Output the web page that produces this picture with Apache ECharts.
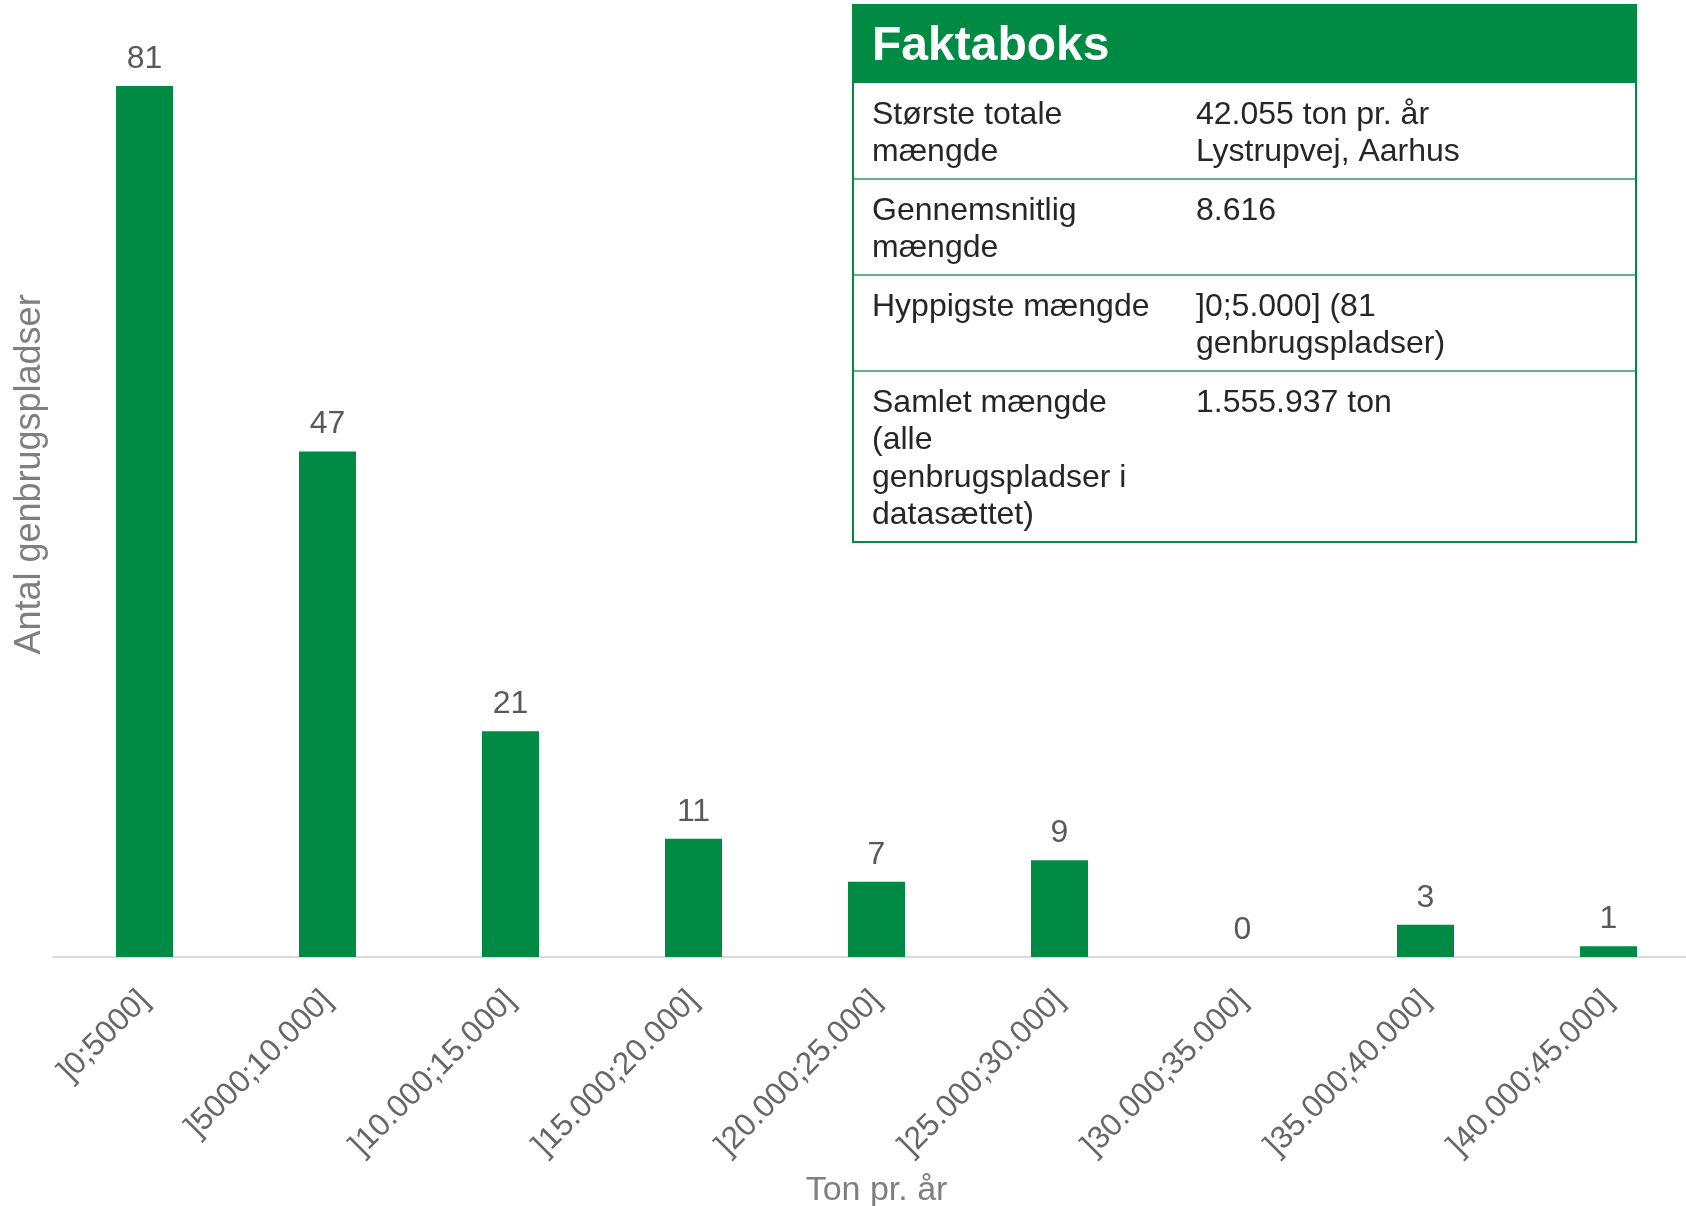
<!DOCTYPE html>
<html>
<head>
<meta charset="utf-8">
<script src="https://cdn.jsdelivr.net/npm/echarts@6/dist/echarts.min.js"></script>
<style>
  html, body { margin: 0; padding: 0; background: #ffffff; }
  #chart { width: 1686px; height: 1206px; }
</style>
</head>
<body>
<div id="chart"></div>
<script>
// ---- data ----
const categories = [']0;5000]', ']5000;10.000]', ']10.000;15.000]', ']15.000;20.000]', ']20.000;25.000]', ']25.000;30.000]', ']30.000;35.000]', ']35.000;40.000]', ']40.000;45.000]'];
const counts = [81, 47, 21, 11, 7, 9, 0, 3, 1];
const xTitle = 'Ton pr. år';
const yTitle = 'Antal genbrugspladser';
const factTitle = 'Faktaboks';
const factLabels = ['Største totale\nmængde', 'Gennemsnitlig\nmængde', 'Hyppigste mængde', 'Samlet mængde\n(alle\ngenbrugspladser i\ndatasættet)'];
const factValues = ['42.055 ton pr. år\nLystrupvej, Aarhus', '8.616', ']0;5.000] (81\ngenbrugspladser)', '1.555.937 ton'];

// ---- styling ----
const GREEN = '#008A44';
const FONT = '"Liberation Sans", Arial, sans-serif';

// ---- fact box graphic ----
const box = { x: 853, y: 5, w: 783, headerH: 78, lineH: 37.5, pad: 21, textX: 872, valX: 1196 };
const graphics = [];
graphics.push({ type: 'rect', shape: { x: box.x, y: box.y, width: box.w, height: box.headerH }, style: { fill: GREEN }, z: 10 });
graphics.push({ type: 'text', x: box.textX, y: box.y + box.headerH / 2 + 3, style: { text: factTitle, fill: '#ffffff', font: 'bold 48px ' + FONT, textVerticalAlign: 'middle' }, z: 11 });
let yCur = box.y + box.headerH;
for (let i = 0; i < factLabels.length; i++) {
  const nLines = Math.max(factLabels[i].split('\n').length, factValues[i].split('\n').length);
  const rowH = nLines * box.lineH + box.pad;
  const ty = yCur + 32 - box.lineH / 2;
  graphics.push({ type: 'text', x: box.textX, y: ty, style: { text: factLabels[i], fill: '#262626', font: '32px ' + FONT, lineHeight: box.lineH, textVerticalAlign: 'top' }, z: 11 });
  graphics.push({ type: 'text', x: box.valX, y: ty, style: { text: factValues[i], fill: '#262626', font: '32px ' + FONT, lineHeight: box.lineH, textVerticalAlign: 'top' }, z: 11 });
  yCur += rowH;
  if (i < factLabels.length - 1) {
    graphics.push({ type: 'line', shape: { x1: box.x, y1: yCur, x2: box.x + box.w, y2: yCur }, style: { stroke: '#2E9B5F', lineWidth: 1.5 }, z: 11 });
  }
}
graphics.push({ type: 'rect', shape: { x: box.x, y: box.y, width: box.w, height: yCur - box.y }, style: { fill: 'none', stroke: GREEN, lineWidth: 2 }, z: 12 });

const chart = echarts.init(document.getElementById('chart'), null, { renderer: 'canvas' });
chart.setOption({
  animation: false,
  backgroundColor: '#ffffff',
  grid: { left: 53, right: -14, top: 86, bottom: 249, containLabel: false, outerBoundsMode: 'none' },
  xAxis: {
    type: 'category',
    data: categories,
    name: xTitle,
    nameLocation: 'middle',
    nameGap: 217,
    nameTextStyle: { fontFamily: FONT, fontSize: 34, color: '#7F7F7F' },
    axisLine: { show: true, lineStyle: { color: '#D9D9D9', width: 2 } },
    axisTick: { show: false },
    axisLabel: { rotate: 45, margin: 39, interval: 0, fontFamily: FONT, fontSize: 31.5, color: '#666666' }
  },
  yAxis: {
    type: 'value',
    min: 0,
    max: 81,
    name: yTitle,
    nameLocation: 'middle',
    nameRotate: 90,
    nameGap: 5,
    nameTextStyle: { fontFamily: FONT, fontSize: 36, color: '#7F7F7F', padding: [0, 0, 0, 94] },
    axisLine: { show: false },
    axisTick: { show: false },
    axisLabel: { show: false },
    splitLine: { show: false }
  },
  series: [{
    type: 'bar',
    data: counts,
    barWidth: 57,
    itemStyle: { color: GREEN },
    label: { show: true, position: 'top', distance: 11, fontFamily: FONT, fontSize: 32, color: '#595959' }
  }],
  graphic: graphics
});
</script>
</body>
</html>
